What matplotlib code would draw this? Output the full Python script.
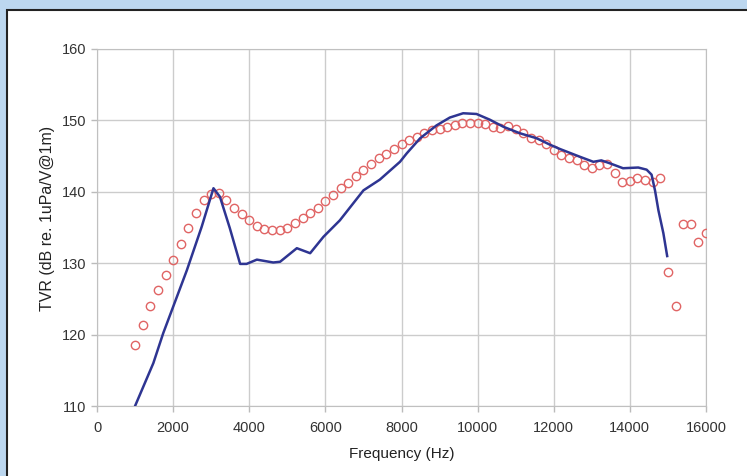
import numpy as np
import matplotlib
matplotlib.use('Agg')
import matplotlib.pyplot as plt
from matplotlib.patches import Rectangle

plt.rcParams['font.family'] = ['Liberation Sans', 'DejaVu Sans']

# mesure (ligne bleue)
f_meas = [1000, 1480, 1740, 2050, 2360, 2750, 3060, 3230, 3490, 3760, 3930,
          4200, 4630, 4810, 5250, 5600, 5950, 6380, 7000, 7430, 7960, 8140,
          8490, 8920, 9270, 9620, 9970, 10320, 10680, 11110, 11550, 11900,
          12160, 12690, 13040, 13250, 13470, 13820, 14220, 14440, 14570,
          14660, 14750, 14880, 14980]
tvr_meas = [110.0, 116.0, 120.2, 124.6, 129.0, 135.1, 140.5, 139.3, 134.9,
            129.9, 129.9, 130.5, 130.1, 130.2, 132.1, 131.4, 133.7, 136.0,
            140.2, 141.7, 144.2, 145.4, 147.5, 149.3, 150.4, 151.0, 150.9,
            150.1, 149.1, 148.2, 147.5, 146.6, 146.0, 144.9, 144.2, 144.4,
            144.0, 143.3, 143.4, 143.1, 142.4, 140.2, 137.4, 134.2, 131.0]

# modele (cercles rouges)
f_model = list(range(1000, 16001, 200))
tvr_model = [118.6, 121.4, 124.0, 126.2, 128.3, 130.5, 132.7, 134.9, 137.0,
             138.8, 139.7, 139.8, 138.8, 137.8, 136.9, 136.0, 135.2, 134.8,
             134.6, 134.7, 135.0, 135.6, 136.3, 137.0, 137.8, 138.7, 139.6,
             140.5, 141.3, 142.2, 143.0, 143.9, 144.7, 145.3, 146.0, 146.7,
             147.2, 147.7, 148.2, 148.6, 148.8, 149.1, 149.4, 149.6, 149.6,
             149.6, 149.5, 149.1, 149.0, 149.2, 148.8, 148.2, 147.5, 147.3,
             146.7, 145.8, 145.2, 144.8, 144.5, 143.8, 143.3, 143.8, 143.9,
             142.7, 141.4, 141.5, 141.9, 141.6, 141.4, 142.0, 128.8, 124.0,
             135.5, 135.5, 132.9, 134.2]

xticks = np.arange(0, 16001, 2000)
yticks = np.arange(110, 161, 10)

fig = plt.figure(figsize=(7.47, 4.76), dpi=100)
fig.patch.set_facecolor('#bcd7ef')

# panneau blanc
panel = Rectangle((7/747, -0.05), 1.1, 1 - 10/476 + 0.05, transform=fig.transFigure,
                  facecolor='white', edgecolor='#222222', lw=1.5, zorder=-10)
fig.patches.append(panel)

ax = fig.add_axes([97/747, 1 - 406/476, 609/747, 357/476])
ax.set_facecolor('white')

ax.plot(f_model, tvr_model, 'o', mfc='none', mec='#e06464', ms=6, mew=1.0, zorder=3)
ax.plot(f_meas, tvr_meas, color='#2e3592', lw=1.8, zorder=4)

ax.set_xlim(0, 16000)
ax.set_ylim(110, 160)
ax.set_xticks(xticks)
ax.set_yticks(yticks)
ax.grid(True, color='#cccccc', lw=1)
ax.set_axisbelow(True)
for s in ax.spines.values():
    s.set_color('#c0c0c0')
ax.tick_params(colors='#bbbbbb', labelcolor='#333333', labelsize=10.5, length=4, width=1)
ax.tick_params(axis='x', pad=7)

# titres des axes
fig.text(402/747, 1 - 454/476, 'Frequency (Hz)', fontsize=11, color='#222222',
         ha='center', va='center')
fig.text(47.5/747, 1 - 218/476, 'TVR (dB re. 1uPa/V@1m)', fontsize=11.5,
         color='#222222', ha='center', va='center', rotation=90)

fig.savefig('out.png', dpi=100, facecolor=fig.get_facecolor())
